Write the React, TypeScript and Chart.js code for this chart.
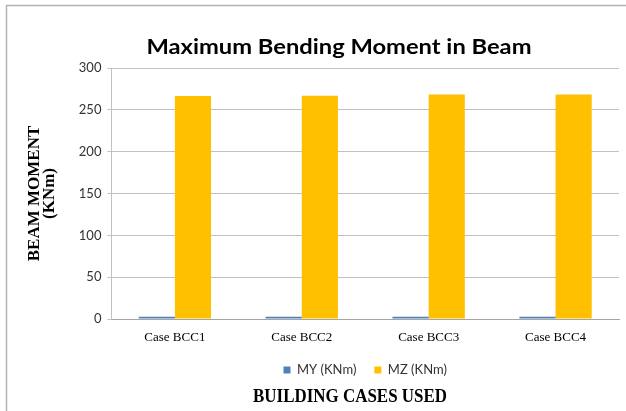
import React, { useEffect, useRef } from "react";
import { Chart, registerables } from "chart.js";

Chart.register(...registerables);

// ---- data ----
const categories = ["Case BCC1", "Case BCC2", "Case BCC3", "Case BCC4"];
const seriesNames = ["MY (KNm)", "MZ (KNm)"];
const myValues = [2.6, 2.6, 2.6, 2.6];
const mzValues = [266.6, 266.8, 268.2, 268.3];
const yTicks = [0, 50, 100, 150, 200, 250, 300];
const chartTitle = "Maximum Bending Moment in Beam";
const xAxisTitle = "BUILDING CASES USED";
const yAxisTitle = ["BEAM MOMENT", "(KNm)"];

function drawFitted(
  ctx: CanvasRenderingContext2D,
  text: string,
  font: string,
  cx: number,
  baseline: number,
  width: number,
  color: string
) {
  ctx.save();
  ctx.font = font;
  ctx.fillStyle = color;
  ctx.textAlign = "center";
  ctx.textBaseline = "alphabetic";
  const w = ctx.measureText(text).width || 1;
  ctx.translate(cx, baseline);
  ctx.scale(width / w, 1);
  ctx.fillText(text, 0, 0);
  ctx.restore();
}

const decorPlugin = {
  id: "decor",
  beforeDraw(chart: any) {
    const ctx: CanvasRenderingContext2D = chart.ctx;
    ctx.save();
    ctx.strokeStyle = "#b3b3b3";
    ctx.lineWidth = 1.5;
    ctx.beginPath();
    ctx.moveTo(6.5, chart.height);
    ctx.lineTo(6.5, 5.5);
    ctx.lineTo(chart.width, 5.5);
    ctx.stroke();
    ctx.restore();
  },
  afterDraw(chart: any) {
    const ctx: CanvasRenderingContext2D = chart.ctx;
    drawFitted(ctx, chartTitle, "bold 20px Lato", 339, 53.5, 385, "#000000");
    drawFitted(ctx, xAxisTitle, "bold 19px 'Liberation Serif'", 350, 401.5, 194, "#000000");
  },
};

export default function App() {
  const canvasRef = useRef<HTMLCanvasElement | null>(null);

  useEffect(() => {
    if (!canvasRef.current) return;
    const chart = new Chart(canvasRef.current, {
      type: "bar",
      data: {
        labels: categories,
        datasets: [
          {
            label: seriesNames[0],
            data: myValues,
            backgroundColor: "#4F81BD",
            borderWidth: 0,
            categoryPercentage: 0.57,
            barPercentage: 1,
          },
          {
            label: seriesNames[1],
            data: mzValues,
            backgroundColor: "#FFC000",
            borderWidth: 0,
            categoryPercentage: 0.57,
            barPercentage: 1,
          },
        ],
      },
      options: {
        responsive: false,
        animation: false,
        devicePixelRatio: 1,
        layout: { padding: { left: 6, right: 7, top: 68, bottom: 24.4 } },
        plugins: {
          title: { display: false },
          tooltip: { enabled: false },
          legend: {
            position: "bottom",
            fullSize: false,
            labels: {
              boxWidth: 7,
              boxHeight: 7,
              padding: 18,
              color: "#333333",
              font: { family: "Lato", size: 13 },
            },
          },
        },
        scales: {
          x: {
            grid: {
              display: true,
              drawOnChartArea: false,
              drawTicks: true,
              tickLength: 11,
              color: "rgba(0,0,0,0)",
            },
            border: { display: true, color: "#a6a6a6", width: 1 },
            ticks: {
              padding: 0,
              color: "#000000",
              font: { family: "'Liberation Serif'", size: 13 },
            },
          },
          y: {
            min: yTicks[0],
            max: yTicks[yTicks.length - 1],
            ticks: {
              stepSize: yTicks[1] - yTicks[0],
              padding: 6,
              color: "#333333",
              font: { family: "Lato", size: 13 },
            },
            grid: { color: "#c0c0c0", tickLength: 4, drawTicks: true },
            border: { display: true, color: "#c0c0c0" },
            title: {
              display: true,
              text: yAxisTitle,
              color: "#000000",
              font: { family: "'Liberation Serif'", size: 17, weight: "bold", lineHeight: 0.9 },
              padding: { top: 20.7, bottom: 15.5 },
            },
          },
        },
      },
      plugins: [decorPlugin],
    });
    return () => chart.destroy();
  }, []);

  return (
    <div style={{ position: "absolute", left: 0, top: 0, width: 626, height: 411, background: "#fff" }}>
      <canvas ref={canvasRef} width={626} height={411} style={{ display: "block" }} />
    </div>
  );
}
